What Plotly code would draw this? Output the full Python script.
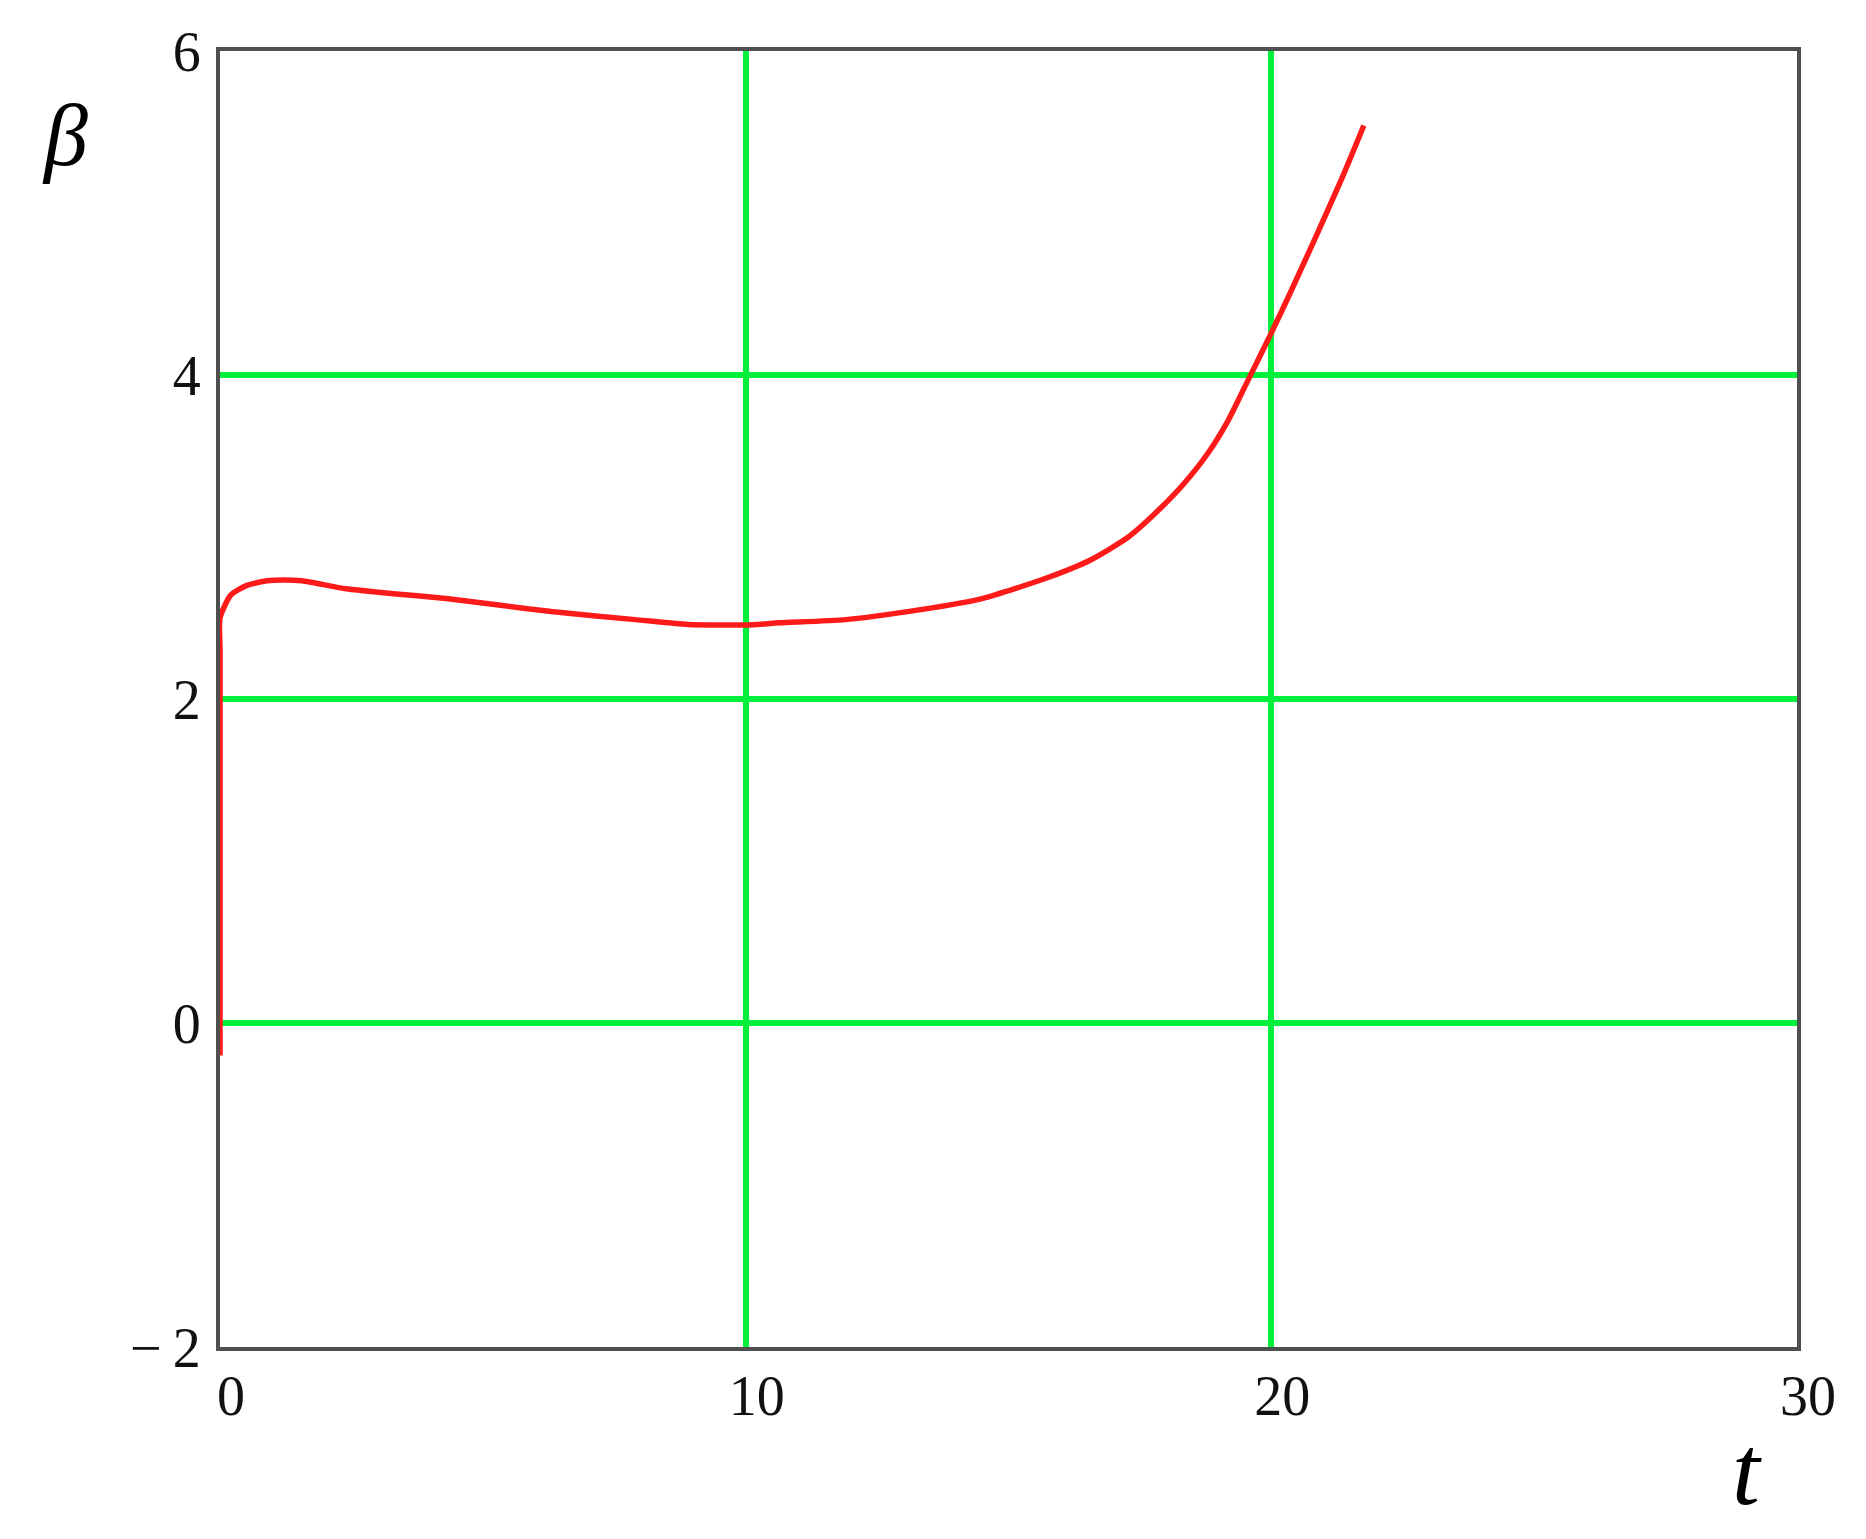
import plotly.graph_objects as go

# curve
t_vals = [0, 0, 0, 0.2, 0.5, 0.9, 1.2, 1.56, 2.4, 3.3, 4.3, 5.3, 6.3, 7.9, 8.9, 10.0,
          10.65, 11.9, 13.3, 14.5, 15.75, 16.57, 17.28, 17.9, 18.34, 18.8, 19.18, 19.56,
          20.0, 20.35, 20.87, 21.35, 21.76]
beta_vals = [-0.2, 2.3, 2.5, 2.64, 2.70, 2.73, 2.735, 2.73, 2.68, 2.65, 2.62, 2.58, 2.54,
             2.49, 2.46, 2.457, 2.47, 2.49, 2.55, 2.62, 2.75, 2.86, 3.0, 3.18, 3.33, 3.52,
             3.72, 3.97, 4.26, 4.50, 4.87, 5.22, 5.54]

x_ticks = [0, 10, 20, 30]
x_tick_labels = ['0', '10', '20', '30']
y_ticks = [-2, 0, 2, 4, 6]
y_tick_labels = ['\u2212\u20092', '0', '2', '4', '6']

RED = '#FF1A1A'
GREEN = '#00F03C'
FRAME = '#4F4F4F'
FONT = 'Liberation Serif'

fig = go.Figure()
fig.add_trace(go.Scatter(x=t_vals, y=beta_vals, mode='lines',
                         line=dict(color=RED, width=5.5, shape='spline', smoothing=0.6),
                         showlegend=False, hoverinfo='skip', cliponaxis=False))

axis_common = dict(showline=True, mirror=True, linecolor=FRAME, linewidth=4,
                   showgrid=True, gridcolor=GREEN, gridwidth=6, zeroline=False,
                   ticks='', layer='below traces',
                   tickfont=dict(family=FONT, size=56, color='#111111'))

fig.update_xaxes(range=[0, 30], tickvals=x_ticks, ticktext=x_tick_labels,
                 ticklabelshift=11, ticklabelstandoff=-3, **axis_common)
fig.update_yaxes(range=[-2, 6], tickvals=y_ticks, ticktext=y_tick_labels,
                 ticklabelstandoff=4, **axis_common)

# axis names as free text (Mathcad style, not rotated)
fig.add_annotation(text='<i>\u03b2</i>', xref='paper', yref='paper', x=-0.098, y=0.935,
                   xanchor='center', yanchor='middle', showarrow=False,
                   font=dict(family=FONT, size=88, color='black'))
fig.add_annotation(text='<i>t</i>', xref='paper', yref='paper', x=0.968, y=-0.095,
                   xanchor='center', yanchor='middle', showarrow=False,
                   font=dict(family=FONT, size=100, color='black'))

# page body adds 8px, margins account for it
fig.update_layout(width=1866, height=1539, plot_bgcolor='white', paper_bgcolor='white',
                  margin=dict(l=212, r=77, t=43, b=200))

fig.write_html('out.html')
